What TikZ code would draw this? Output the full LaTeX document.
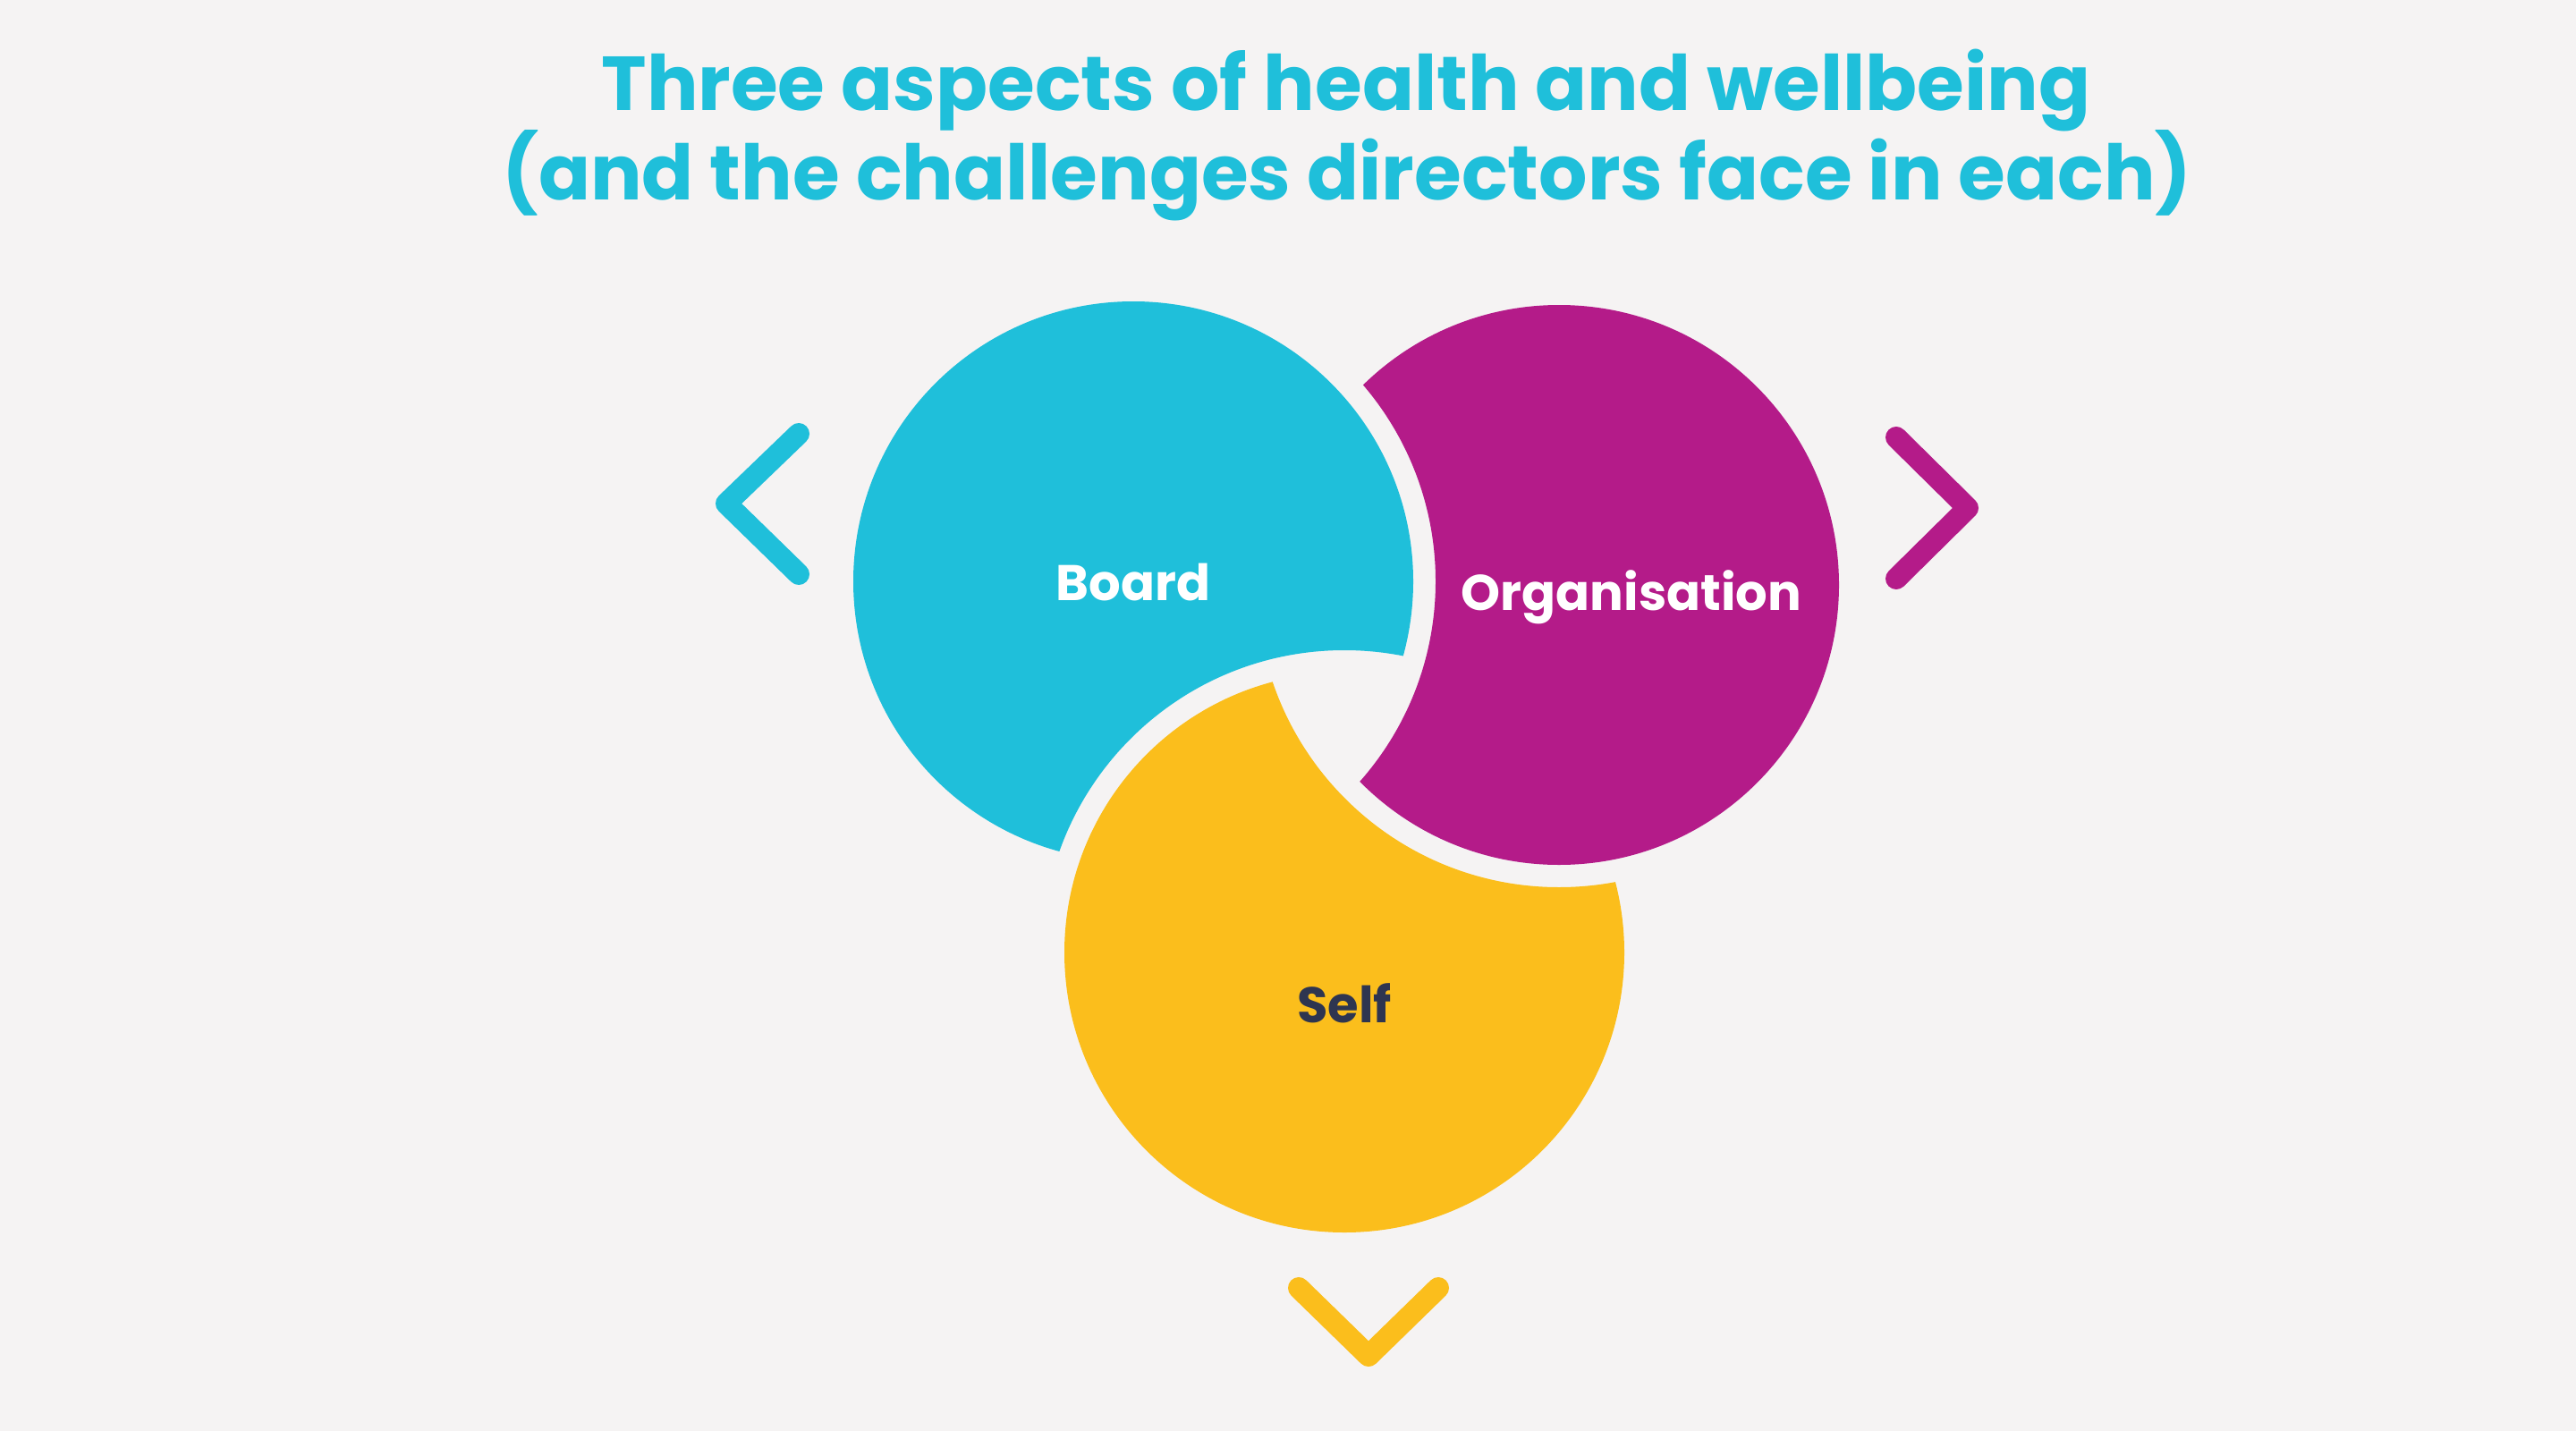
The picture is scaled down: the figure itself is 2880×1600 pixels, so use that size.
\documentclass[tikz,border=0pt]{standalone}
\usepackage{fontspec}
\setmainfont{Poppins}
\usepackage{xcolor}
\usetikzlibrary{positioning}

\definecolor{bgcol}{HTML}{F5F3F3}
\definecolor{boardcol}{HTML}{1FBFDA}
\definecolor{orgcol}{HTML}{B41B89}
\definecolor{selfcol}{HTML}{FBBE1C}
\definecolor{selftext}{HTML}{2E3550}

\tikzset{
    titletext/.style={anchor=base, text=boardcol, font=\fontsize{85.5}{96}\selectfont\bfseries, inner sep=0pt},
    ringtext/.style={anchor=base, text=white, font=\fontsize{56}{63}\selectfont\bfseries, inner sep=0pt},
    chevron/.style={line width=24pt, line cap=round, line join=round}
}

\begin{document}
\begin{tikzpicture}[x=1pt,y=-1pt]
            \fill[bgcol] (0,0) rectangle (2880,1600);
            \useasboundingbox (0,0) rectangle (2880,1600);

            \coordinate (B) at (1267,650);
            \coordinate (O) at (1743,654);
            \coordinate (S) at (1503,1065);

            % each ring is cut by the next one, with a gap
            \foreach \c/\n/\col in {B/S/boardcol,O/B/orgcol,S/O/selfcol} {
                    \begin{scope}
                        \clip (\c) circle (313pt);
                        \fill[\col, even odd rule] (0,0) rectangle (2880,1600) (\n) circle (338pt);
                    \end{scope}
                }

            \node[titletext] (title1) at (1505,124) {Three aspects of health and wellbeing};
            \node[titletext] (title2) at (1506,223) {(and the challenges directors face in each)};

            \node[ringtext] (board) at (1267,671) {Board};
            \node[ringtext] (organisation) at (1824,682) {Organisation};
            \node[ringtext, text=selftext] (self) at (1503,1143) {Self};

            \draw[chevron, boardcol] (893,485) -- (812,563) -- (893,642);
            \draw[chevron, orgcol] (2120,489) -- (2200,568) -- (2120,647);
            \draw[chevron, selfcol] (1452,1440) -- (1530,1516) -- (1608,1440);

        \end{tikzpicture}
\end{document}
